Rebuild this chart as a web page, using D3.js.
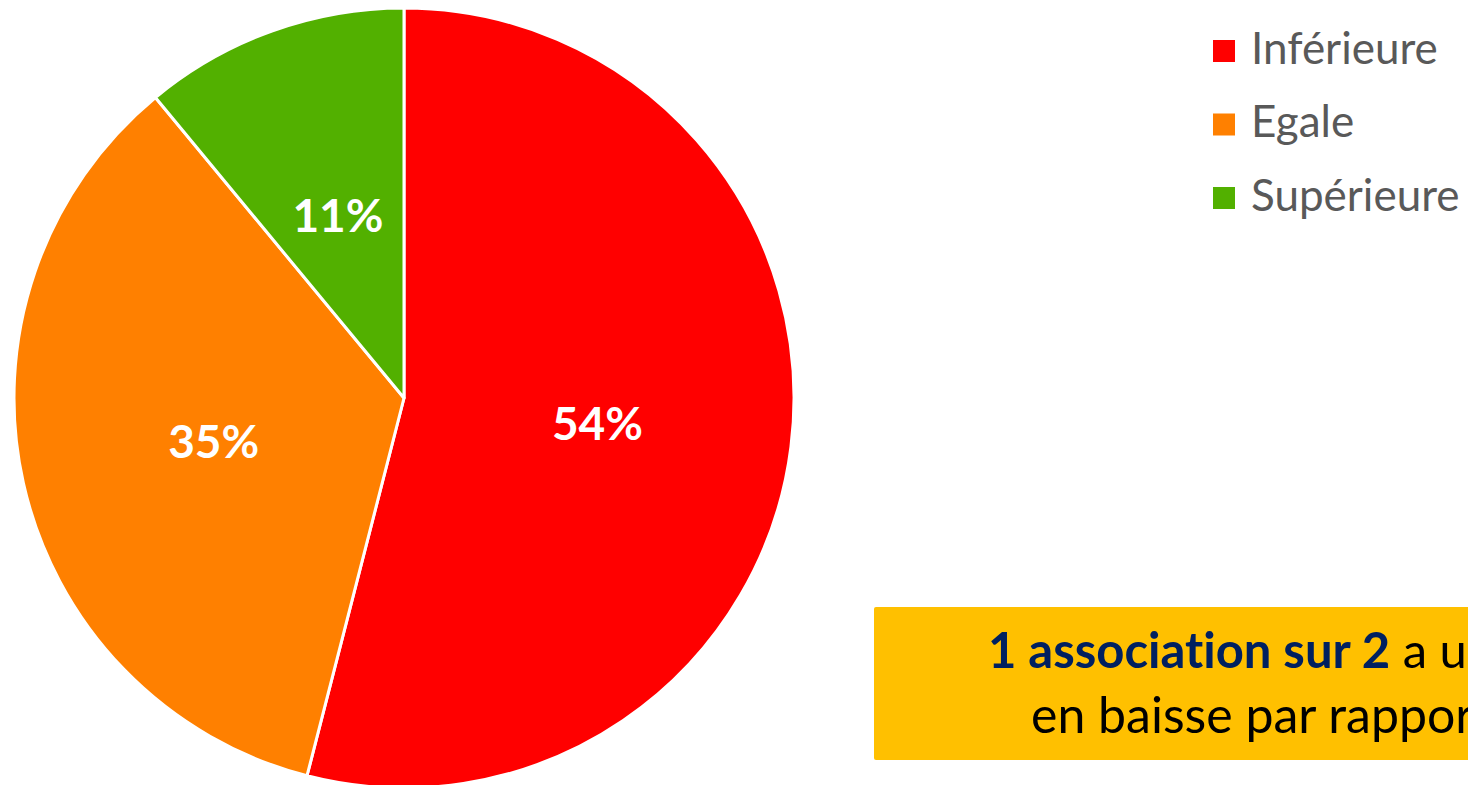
<!DOCTYPE html>
<html>
<head>
<meta charset="utf-8">
<script src="https://cdn.jsdelivr.net/npm/d3@7"></script>
<style>
  html, body { margin: 0; padding: 0; background: #fff; overflow: hidden; }
  svg { display: block; }
  text { font-variant-ligatures: none; font-feature-settings: "liga" 0; }
</style>
</head>
<body>
<svg id="chart" width="1468" height="785"></svg>
<script>
const categories = ["Inférieure", "Egale", "Supérieure"];
const values = [54, 35, 11];
const colors = ["#FF0000", "#FF8000", "#52B000"];
const boxLine1Bold = "1 association sur 2";
const boxLine1Rest = " a une activité";
const boxLine2 = "en baisse par rapport à 2019";

const svg = d3.select("#chart");
const font = "Lato, 'Open Sans', sans-serif";

const cx = 404, cy = 398, R = 390;
const pie = d3.pie().sort(null).value(d => d)(values);
const arc = d3.arc().innerRadius(0).outerRadius(R);

const g = svg.append("g").attr("transform", `translate(${cx},${cy})`);
g.selectAll("path").data(pie).join("path")
  .attr("d", arc)
  .attr("fill", (d, i) => colors[i])
  .attr("stroke", "#fff")
  .attr("stroke-width", 3)
  .attr("stroke-linejoin", "round");

g.selectAll("text.lbl").data(pie).join("text")
  .attr("class", "lbl")
  .attr("transform", d => `translate(${arc.centroid(d)})`)
  .attr("text-anchor", "middle")
  .attr("dy", "0.38em")
  .attr("fill", "#fff")
  .attr("font-family", font)
  .attr("font-weight", "bold")
  .attr("font-size", 46)
  .text(d => d.data + "%");

// legend
const legend = svg.append("g");
const ly = d3.scalePoint().domain(categories).range([51, 198]);
categories.forEach((c, i) => {
  legend.append("rect")
    .attr("x", 1213).attr("y", ly(c) - 11)
    .attr("width", 22).attr("height", 22)
    .attr("fill", colors[i]);
  legend.append("text")
    .attr("x", 1251).attr("y", ly(c) + 12.5)
    .attr("fill", "#595959")
    .attr("font-family", font)
    .attr("font-size", 44)
    .text(c);
});

// callout box
svg.append("rect")
  .attr("x", 874).attr("y", 607)
  .attr("width", 700).attr("height", 153)
  .attr("rx", 2)
  .attr("fill", "#FFC000");

const t1 = svg.append("text")
  .attr("x", 988).attr("y", 668)
  .attr("font-family", font)
  .attr("font-size", 49);
t1.append("tspan").attr("font-weight", "bold").attr("fill", "#002060").text(boxLine1Bold);
t1.append("tspan").attr("fill", "#000").text(boxLine1Rest);

svg.append("text")
  .attr("x", 1031).attr("y", 733)
  .attr("font-family", font)
  .attr("font-size", 50)
  .attr("fill", "#000")
  .text(boxLine2);
</script>
</body>
</html>
